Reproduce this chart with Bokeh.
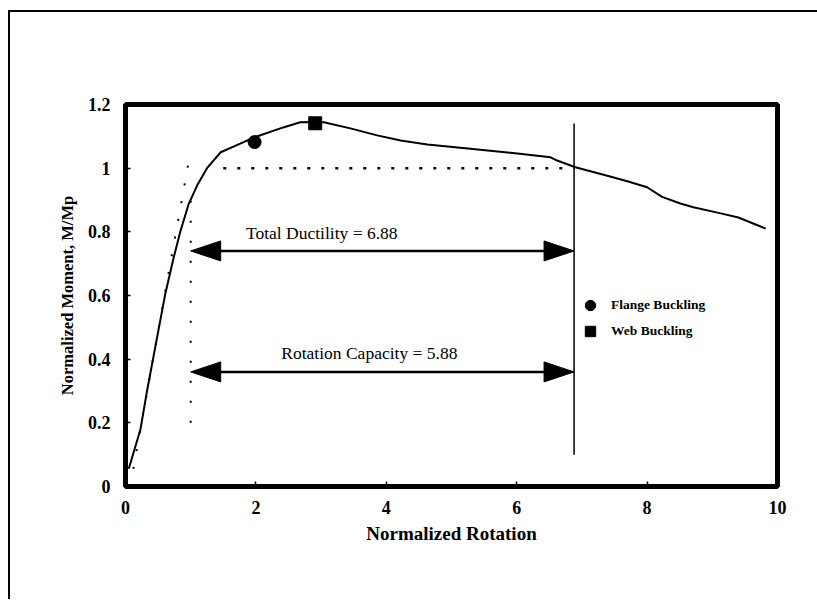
from bokeh.plotting import figure
from bokeh.layouts import column
from bokeh.models import Range1d, FixedTicker, Label, Legend, LegendItem
from bokeh.embed import file_html
from bokeh.resources import INLINE

# Normalized moment-rotation response of the beam test
rotation = [0.05, 0.23, 0.33, 0.61, 0.74, 0.84, 0.97, 1.10, 1.25, 1.46, 1.76, 1.98,
            2.42, 2.68, 2.91, 3.04, 3.45, 3.86, 4.22, 4.63, 5.25, 6.01, 6.52, 6.62,
            6.90, 7.39, 7.71, 8.00, 8.23, 8.51, 8.71, 9.13, 9.40, 9.82]
moment = [0.056, 0.18, 0.30, 0.605, 0.72, 0.80, 0.888, 0.946, 1.00, 1.05, 1.077, 1.097,
          1.128, 1.144, 1.145, 1.144, 1.125, 1.103, 1.087, 1.074, 1.062, 1.046, 1.034, 1.024,
          1.003, 0.976, 0.958, 0.940, 0.910, 0.889, 0.877, 0.858, 0.845, 0.810]

# local buckling events
flange_rot = [1.98]
flange_mom = [1.082]
web_rot = [2.91]
web_mom = [1.141]

# construction lines
elastic_rot = [0.07, 0.96]
elastic_mom = [0.0, 1.01]
plateau_rot = [1.5, 6.88]
plateau_mom = [1.0, 1.0]
yield_rot = [1.0, 1.0]
yield_mom = [0.2, 0.9]
limit_rot = [6.88, 6.88]
limit_mom = [0.1, 1.14]

# ductility measures
plastic_rotation = 1.0
limit_rotation = 6.88
total_ductility = 6.88
rotation_capacity = 5.88
ductility_level = 0.74
capacity_level = 0.36

x_ticks = [0, 2, 4, 6, 8, 10]
y_ticks = [0, 0.2, 0.4, 0.6, 0.8, 1, 1.2]
y_tick_labels = ["0", "0.2", "0.4", "0.6", "0.8", "1", "1.2"]

# the page rule sits 8px / 10px in from the window edge and is 2px thick;
# the canvas starts just inside it and stops a little short of the bottom
RULE_X, RULE_Y, RULE_W = 8, 10, 2
W, H = 817 - RULE_X - RULE_W, 605 - RULE_Y - RULE_W - 6
LEFT, RIGHT, TOP, BOTTOM = 115, 40, 92, 113
SERIF = "Liberation Serif"

p = figure(width=W, height=H, output_backend="svg", toolbar_location=None,
           x_range=Range1d(0, 10), y_range=Range1d(0, 1.2),
           min_border_left=LEFT, min_border_right=RIGHT,
           min_border_top=TOP, min_border_bottom=BOTTOM)
p.background_fill_color = "white"
p.border_fill_color = "white"
p.outline_line_color = "black"
p.outline_line_width = 5
p.grid.visible = False

for ax in (p.xaxis[0], p.yaxis[0]):
    ax.axis_line_color = None
    ax.major_tick_in = 5
    ax.major_tick_out = 0
    ax.major_tick_line_width = 1.5
    ax.minor_tick_line_color = None
    ax.major_label_text_font = SERIF
    ax.major_label_text_font_style = "bold"
    ax.major_label_text_font_size = "18px"
    ax.major_label_text_color = "black"
    ax.axis_label_text_font = SERIF
    ax.axis_label_text_font_style = "bold"
    ax.axis_label_text_color = "black"

p.xaxis.ticker = FixedTicker(ticks=x_ticks)
p.yaxis.ticker = FixedTicker(ticks=y_ticks)
p.yaxis.major_label_overrides = dict(zip(y_ticks, y_tick_labels))
p.xaxis.axis_label = "Normalized Rotation"
p.yaxis.axis_label = "Normalized Moment, M/Mp"
p.xaxis.axis_label_text_font_size = "19px"
p.yaxis.axis_label_text_font_size = "16.5px"
p.xaxis.major_label_standoff = 14
p.xaxis.axis_label_standoff = 6
p.yaxis.major_label_standoff = 15
p.yaxis.axis_label_standoff = 8

# construction lines
p.line(elastic_rot, elastic_mom, line_color="black", line_width=2, line_dash="2 16")
p.line(yield_rot, yield_mom, line_color="black", line_width=2, line_dash="2 18")
p.line(plateau_rot, plateau_mom, line_color="black", line_width=2.5, line_dash="3 11")
p.line(limit_rot, limit_mom, line_color="black", line_width=1.5)

# response curve
p.line(rotation, moment, line_color="black", line_width=2)

r_flange = p.scatter(flange_rot, flange_mom, marker="circle", size=13, color="black")
r_web = p.scatter(web_rot, web_mom, marker="square", size=13, color="black")

# double-headed dimension arrows
frame_w = W - LEFT - RIGHT
frame_h = H - TOP - BOTTOM
px_x = frame_w / 10.0
px_y = frame_h / 1.2
head_len = 30 / px_x
head_half = 10 / px_y


def dimension(x0, x1, y):
    p.line([x0 + head_len * 0.5, x1 - head_len * 0.5], [y, y], line_color="black", line_width=2.5)
    p.patches([[x0, x0 + head_len, x0 + head_len], [x1, x1 - head_len, x1 - head_len]],
              [[y, y + head_half, y - head_half], [y, y + head_half, y - head_half]],
              color="black")


dimension(plastic_rotation, limit_rotation, ductility_level)
dimension(plastic_rotation, limit_rotation, capacity_level)

p.add_layout(Label(x=3.01, y=0.795, text=f"Total Ductility = {total_ductility:.2f}",
                   text_font=SERIF, text_font_size="17.5px", text_align="center",
                   text_baseline="middle", text_color="black"))
p.add_layout(Label(x=3.74, y=0.418, text=f"Rotation Capacity = {rotation_capacity:.2f}",
                   text_font=SERIF, text_font_size="17.5px", text_align="center",
                   text_baseline="middle", text_color="black"))

legend = Legend(items=[LegendItem(label="Flange Buckling", renderers=[r_flange]),
                       LegendItem(label="Web Buckling", renderers=[r_web])],
                location=(452, 142), orientation="vertical",
                glyph_width=26, glyph_height=26, label_height=26, spacing=0,
                label_standoff=8, padding=0, margin=0,
                border_line_color=None, background_fill_alpha=0,
                label_text_font=SERIF, label_text_font_style="bold",
                label_text_font_size="13.5px", label_text_color="black")
p.add_layout(legend)

# page with its rule along the top and left edges
page = column(p, styles={
    "position": "absolute",
    "left": f"{RULE_X}px",
    "top": f"{RULE_Y}px",
    "box-sizing": "content-box",
    "border-left": f"{RULE_W}px solid #000",
    "border-top": f"{RULE_W}px solid #000",
})

open("out.html", "w").write(file_html(page, INLINE))
